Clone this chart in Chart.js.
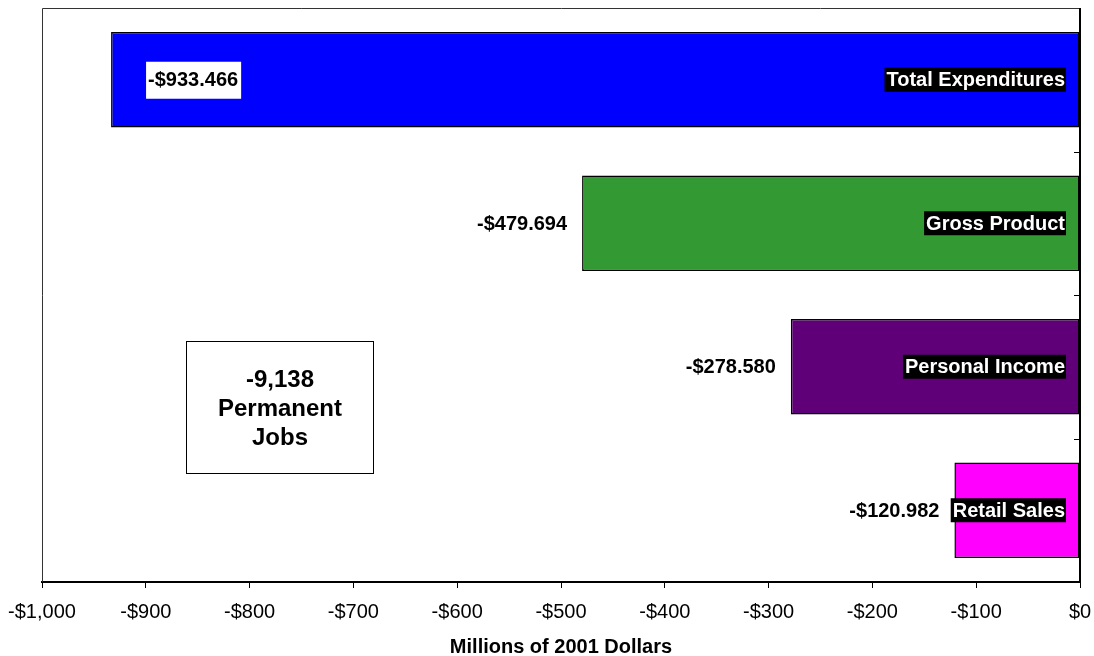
<!DOCTYPE html>
<html>
<head>
<meta charset="utf-8">
<script src="https://cdn.jsdelivr.net/npm/chart.js@4.4.1/dist/chart.umd.min.js"></script>
<style>
  html, body { margin: 0; padding: 0; background: #fff; }
  #wrap { width: 1094px; height: 656px; position: relative; }
</style>
</head>
<body>
<div id="wrap"><canvas id="c" width="1094" height="656"></canvas></div>
<script>
// Economic impact measures, millions of 2001 dollars
const categories = ["Total Expenditures", "Gross Product", "Personal Income", "Retail Sales"];
const impactValues = [-933.466, -479.694, -278.580, -120.982];
const barColors = ["#0000FF", "#339933", "#600078", "#FF00FF"];
const xTickValues = [-1000, -900, -800, -700, -600, -500, -400, -300, -200, -100, 0];
const jobsNote = ["-9,138", "Permanent", "Jobs"];

const FONT = "'Liberation Sans', Arial, sans-serif";

function money(v) {
  if (v === 0) return "$0";
  return (v < 0 ? "-$" : "$") + Math.abs(v).toLocaleString("en-US");
}

// Frame, inward category ticks, value labels, category name tags and note box
const decorations = {
  id: "decorations",
  beforeDatasetsDraw(chart) {
    const { ctx, chartArea: a } = chart;
    ctx.save();
    ctx.strokeStyle = "#333";
    ctx.lineWidth = 1;
    ctx.beginPath();
    ctx.moveTo(a.left + 0.5, a.bottom);
    ctx.lineTo(a.left + 0.5, a.top + 0.5);
    ctx.lineTo(a.right, a.top + 0.5);
    ctx.stroke();
    ctx.restore();
  },
  afterDatasetsDraw(chart) {
    const { ctx, chartArea: a } = chart;
    const x = chart.scales.x, y = chart.scales.y;
    const meta = chart.getDatasetMeta(0);
    ctx.save();

    // value axis line at zero, with inward ticks between categories
    const x0 = x.getPixelForValue(0);
    ctx.strokeStyle = "#000";
    ctx.lineWidth = 2;
    ctx.beginPath();
    ctx.moveTo(x0, a.top);
    ctx.lineTo(x0, a.bottom);
    ctx.stroke();
    ctx.lineWidth = 1;
    for (let i = 1; i < categories.length; i++) {
      const yy = Math.round((y.getPixelForValue(i - 1) + y.getPixelForValue(i)) / 2) + 0.5;
      ctx.beginPath();
      ctx.moveTo(x0 - 6, yy);
      ctx.lineTo(x0, yy);
      ctx.stroke();
    }

    meta.data.forEach((bar, i) => {
      const cy = bar.y;
      const v = impactValues[i];
      const txt = (v < 0 ? "-$" : "$") + Math.abs(v).toFixed(3);

      // category tag: white bold text on black, right-aligned inside the bar
      ctx.font = "bold 20px " + FONT;
      ctx.textBaseline = "middle";
      const nw = ctx.measureText(categories[i]).width;
      const nr = x0 - 15;
      ctx.fillStyle = "#000";
      ctx.fillRect(nr - nw - 2, cy - 12, nw + 3, 24);
      ctx.fillStyle = "#fff";
      ctx.textAlign = "right";
      ctx.fillText(categories[i], nr, cy + 1);

      // value label
      const vw = ctx.measureText(txt).width;
      if (i === 0) {
        const lx = bar.x + 37;
        ctx.fillStyle = "#fff";
        ctx.fillRect(lx - 2, cy - 18, vw + 5, 37);
        ctx.fillStyle = "#000";
        ctx.textAlign = "left";
        ctx.fillText(txt, lx, cy + 1);
      } else {
        ctx.fillStyle = "#000";
        ctx.textAlign = "right";
        ctx.fillText(txt, bar.x - 15, cy + 1);
      }
    });

    // permanent jobs note box
    const bx = 186.5, by = 341.5, bw = 187, bh = 132;
    ctx.fillStyle = "#fff";
    ctx.fillRect(bx, by, bw, bh);
    ctx.strokeStyle = "#000";
    ctx.lineWidth = 1;
    ctx.strokeRect(bx, by, bw, bh);
    ctx.fillStyle = "#000";
    ctx.font = "bold 24px " + FONT;
    ctx.textAlign = "center";
    ctx.textBaseline = "middle";
    jobsNote.forEach((t, k) => ctx.fillText(t, bx + bw / 2, by + 39 + k * 29));

    ctx.restore();
  }
};

new Chart(document.getElementById("c"), {
  type: "bar",
  data: {
    labels: categories,
    datasets: [{
      data: impactValues,
      backgroundColor: barColors,
      borderColor: "#000",
      borderWidth: 1.5,
      borderSkipped: false,
      categoryPercentage: 0.665,
      barPercentage: 1.0
    }]
  },
  options: {
    indexAxis: "y",
    responsive: false,
    animation: false,
    devicePixelRatio: 1,
    layout: { padding: { left: 42, right: 14, top: 8, bottom: 0 } },
    plugins: { legend: { display: false }, tooltip: { enabled: false } },
    scales: {
      x: {
        min: -1000,
        max: 0,
        afterBuildTicks(scale) { scale.ticks = xTickValues.map(v => ({ value: v })); },
        afterFit(scale) {
          scale.height = 74;
          scale.paddingLeft = 0;
          scale.paddingRight = 0;
        },
        grid: { drawOnChartArea: false, drawTicks: true, tickLength: 6, color: "#000", lineWidth: 1 },
        border: { display: true, color: "#000", width: 2 },
        ticks: {
          color: "#000",
          font: { family: FONT, size: 20 },
          padding: 12,
          maxRotation: 0,
          autoSkip: false,
          callback: v => money(v)
        },
        title: {
          display: true,
          text: "Millions of 2001 Dollars",
          color: "#000",
          font: { family: FONT, size: 20, weight: "bold", lineHeight: 0.9 },
          padding: { top: 0, bottom: 0 }
        }
      },
      y: {
        display: false,
        offset: true
      }
    }
  },
  plugins: [decorations]
});
</script>
</body>
</html>
